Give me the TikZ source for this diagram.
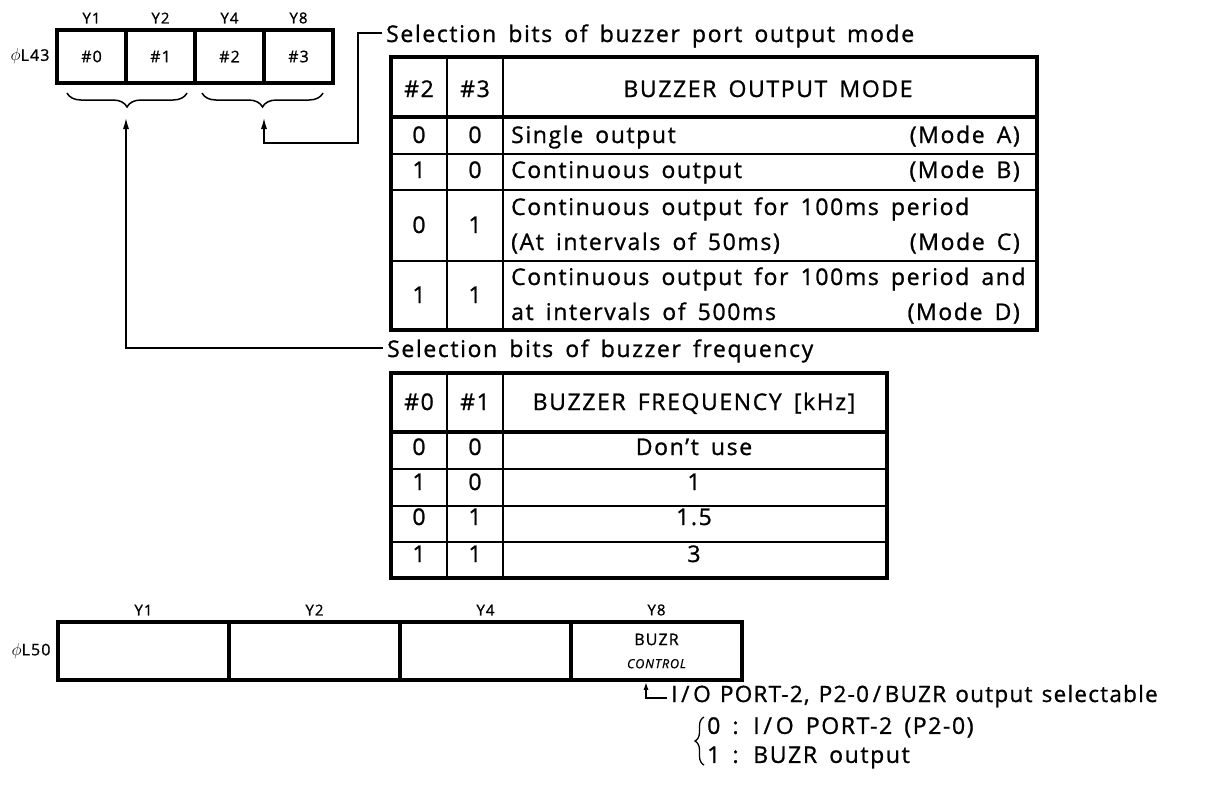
\documentclass[tikz,border=0pt]{standalone}
\usepackage{fontspec}
\setmainfont{Open Sans}[LetterSpace=7, WordSpace=1.6, FakeBold=1]
\newfontfamily\tightsans{Open Sans}[LetterSpace=5.5, WordSpace=1.3, FakeBold=1]
\usetikzlibrary{positioning, calc, arrows.meta, decorations.pathreplacing}

\begin{document}
\begin{tikzpicture}[>=Latex, x=1pt, y=-1pt]
  \tikzset{
    regcell/.style={draw, line width=3.5pt, inner sep=0pt, outer sep=0pt,
      font=\fontsize{16}{19}\selectfont},
    reglabel/.style={font=\fontsize{15}{17}\selectfont},
    celltext/.style={font=\fontsize{23}{27}\selectfont, inner sep=0pt},
    seltext/.style={font=\fontsize{23}{29}\selectfont, inner ysep=0pt,
      inner xsep=4pt, text depth=0pt},
    thickrule/.style={line width=3.5pt},
    thinrule/.style={line width=1.8pt},
    pointer/.style={line width=1.8pt, -{Latex[length=12pt,width=6pt]}},
    shortpointer/.style={line width=1.6pt, -{Latex[length=8pt,width=5pt]}},
    bitbrace/.style={decorate, decoration={brace, amplitude=14pt, mirror},
      line width=1.5pt},
  }

  \useasboundingbox (0,0) rectangle (1213,785);

  % register L43
  \node[regcell, minimum width=69pt, minimum height=53pt] (b0) at (91.5,56.5) {\#0};
  \node[regcell, minimum width=69pt, minimum height=53pt, right=0pt of b0] (b1) {\#1};
  \node[regcell, minimum width=69pt, minimum height=53pt, right=0pt of b1] (b2) {\#2};
  \node[regcell, minimum width=69pt, minimum height=53pt, right=0pt of b2] (b3) {\#3};
  \node[reglabel, above=3pt of b0] (b0y) {Y1};
  \node[reglabel, above=3pt of b1] (b1y) {Y2};
  \node[reglabel, above=3pt of b2] (b2y) {Y4};
  \node[reglabel, above=3pt of b3] (b3y) {Y8};
  \node[reglabel, left=4pt of b0, font=\fontsize{16}{18}\selectfont] (l43) {$\phi$L43};

  \draw[bitbrace] ($(b0.south west)+(10,10)$) -- ($(b1.south east)+(-8,10)$);
  \draw[bitbrace] ($(b2.south west)+(7,10)$) -- ($(b3.south east)+(-10,10)$);
  \coordinate (tip01) at ($(b0.south east)+(0,34)$);
  \coordinate (tip23) at ($(b2.south east)+(0,34)$);

  % output mode table
  \draw[thickrule] (391,57) rectangle (1037,330);
  \draw[thickrule] (391,117) -- (1037,117);
  \draw[thinrule] (391,154) -- (1037,154);
  \draw[thinrule] (391,190) -- (1037,190);
  \draw[thinrule] (391,261) -- (1037,261);
  \draw[thinrule] (447,57) -- (447,330);
  \draw[thinrule] (503,57) -- (503,330);

  \node[celltext, anchor=base] (mh2) at (419,97) {\#2};
  \node[celltext, anchor=base] (mh3) at (475,97) {\#3};
  \node[celltext, anchor=base] (mhead) at (768,97) {BUZZER OUTPUT MODE};

  \node[celltext, anchor=base] (ma2) at (419,143) {0};
  \node[celltext, anchor=base] (ma3) at (475,143) {0};
  \node[celltext, anchor=base west] (matext) at (511,143) {Single output};
  \node[celltext, anchor=base east] (mamode) at (1020,143) {(Mode A)};

  \node[celltext, anchor=base] (mb2) at (419,178) {1};
  \node[celltext, anchor=base] (mb3) at (475,178) {0};
  \node[celltext, anchor=base west] (mbtext) at (511,178) {Continuous output};
  \node[celltext, anchor=base east] (mbmode) at (1020,178) {(Mode B)};

  \node[celltext, anchor=base] (mc2) at (419,233) {0};
  \node[celltext, anchor=base] (mc3) at (475,233) {1};
  \node[celltext, anchor=base west] (mctext) at (511,215) {Continuous output for 100ms period};
  \node[celltext, anchor=base west] (mctextb) at (511,250) {(At intervals of 50ms)};
  \node[celltext, anchor=base east] (mcmode) at (1020,250) {(Mode C)};

  \node[celltext, anchor=base] (md2) at (419,303) {1};
  \node[celltext, anchor=base] (md3) at (475,303) {1};
  \node[celltext, anchor=base west] (mdtext) at (511,285) {Continuous output for 100ms period and};
  \node[celltext, anchor=base west] (mdtextb) at (511,320) {at intervals of 500ms};
  \node[celltext, anchor=base east] (mdmode) at (1020,320) {(Mode D)};

  \node[seltext, anchor=base west] (modelbl) at (382,42) {Selection bits of buzzer port output mode};
  \coordinate (modebend) at (358,143);
  \draw[pointer] (modelbl.west) -| (modebend) -| (tip23);

  % frequency table
  \node[seltext, anchor=base west] (freqlbl) at (383,357) {Selection bits of buzzer frequency};
  \draw[pointer] (freqlbl.west) -| (tip01);

  \draw[thickrule] (391,373) rectangle (887,578);
  \draw[thickrule] (391,432) -- (887,432);
  \draw[thinrule] (391,469) -- (887,469);
  \draw[thinrule] (391,506) -- (887,506);
  \draw[thinrule] (391,542) -- (887,542);
  \draw[thinrule] (447,373) -- (447,578);
  \draw[thinrule] (503,373) -- (503,578);

  \node[celltext, anchor=base] (fh0) at (419,410) {\#0};
  \node[celltext, anchor=base] (fh1) at (475,410) {\#1};
  \node[celltext, anchor=base] (fhead) at (694,410) {BUZZER FREQUENCY [kHz]};

  \node[celltext, anchor=base] (fa0) at (419,455) {0};
  \node[celltext, anchor=base] (fa1) at (475,455) {0};
  \node[celltext, anchor=base] (faval) at (694,455) {Don’t use};
  \node[celltext, anchor=base] (fb0) at (419,490) {1};
  \node[celltext, anchor=base] (fb1) at (475,490) {0};
  \node[celltext, anchor=base] (fbval) at (694,490) {1};
  \node[celltext, anchor=base] (fc0) at (419,525) {0};
  \node[celltext, anchor=base] (fc1) at (475,525) {1};
  \node[celltext, anchor=base] (fcval) at (694,525) {1.5};
  \node[celltext, anchor=base] (fd0) at (419,562) {1};
  \node[celltext, anchor=base] (fd1) at (475,562) {1};
  \node[celltext, anchor=base] (fdval) at (694,562) {3};

  % register L50
  \node[regcell, minimum width=171pt, minimum height=58pt] (c1) at (143.5,651) {};
  \node[regcell, minimum width=171pt, minimum height=58pt, right=0pt of c1] (c2) {};
  \node[regcell, minimum width=171pt, minimum height=58pt, right=0pt of c2] (c4) {};
  \node[regcell, minimum width=171pt, minimum height=58pt, right=0pt of c4, align=center] (c8)
    {BUZR\\[4pt]{\fontsize{12.5}{14}\selectfont\itshape CONTROL}};
  \node[reglabel, above=3pt of c1] (c1y) {Y1};
  \node[reglabel, above=3pt of c2] (c2y) {Y2};
  \node[reglabel, above=3pt of c4] (c4y) {Y4};
  \node[reglabel, above=3pt of c8] (c8y) {Y8};
  \node[reglabel, left=4pt of c1, font=\fontsize{16}{18}\selectfont] (l50) {$\phi$L50};

  \node[seltext, anchor=base west, font=\fontsize{22.5}{29}\tightsans] (ctllbl) at (667,702)
    {I\,/\,O PORT-2, P2-0\,/\,BUZR output selectable};
  \coordinate (ctlpin) at ($(c8.south west)+(75,1.75)$);
  \draw[shortpointer] ($(ctllbl.base west)+(0,-4)$) -| (ctlpin);

  \node[seltext, anchor=north west, align=left] (ctlopts) at (703,717)
    {0 : I\,/\,O PORT-2 (P2-0)\\1 : BUZR output};
  \draw[decorate, decoration={brace, amplitude=9pt}, line width=1.3pt]
    ($(ctlopts.south west)+(1,2)$) -- ($(ctlopts.north west)+(1,0)$);
\end{tikzpicture}
\end{document}
